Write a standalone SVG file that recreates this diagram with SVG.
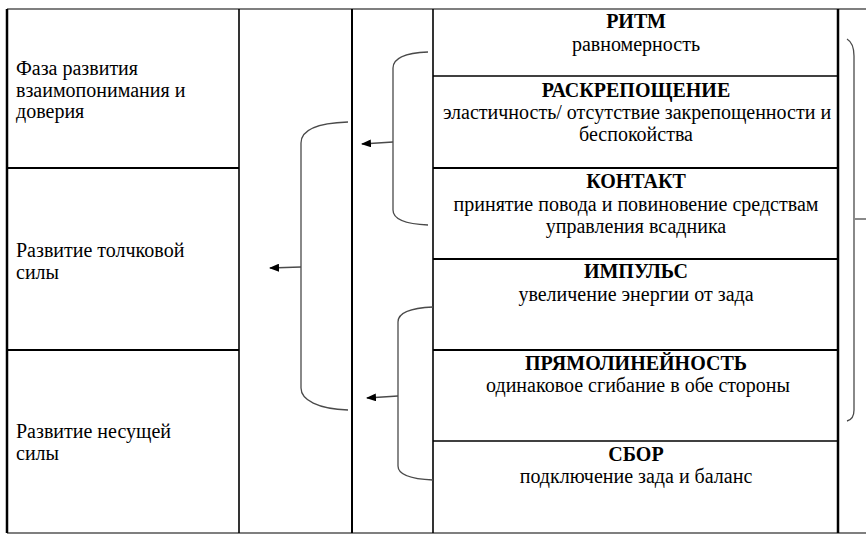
<svg xmlns="http://www.w3.org/2000/svg" width="866" height="538" viewBox="0 0 866 538">
<defs>
<style>
.t{font-family:"Liberation Serif","Times New Roman",serif;font-size:20px;fill:#000}
.b{font-weight:bold}
.c{text-anchor:middle}
.g{stroke:#000;fill:none}
.k{stroke:#4a4a4a;stroke-width:1.3;fill:none}
</style>
<marker id="ah" markerWidth="10" markerHeight="8" refX="9" refY="4" orient="auto" markerUnits="userSpaceOnUse">
<path d="M0,0 L10,4 L0,8 Z" fill="#000"/>
</marker>
</defs>
<rect width="866" height="538" fill="#fff"/>
<g id="grid">
<line class="g" x1="7" y1="9" x2="866" y2="9" stroke="#555" stroke-width="1.2"/>
<line class="g" x1="7" y1="533" x2="866" y2="533" stroke="#555" stroke-width="1.2"/>
<line class="g" x1="7" y1="9" x2="7" y2="533" stroke-width="2.5"/>
<line class="g" x1="239" y1="9" x2="239" y2="533" stroke-width="1.6"/>
<line class="g" x1="352" y1="9" x2="352" y2="533" stroke-width="2"/>
<line class="g" x1="433" y1="9" x2="433" y2="533" stroke-width="1.6"/>
<line class="g" x1="838" y1="9" x2="838" y2="533" stroke-width="2.5"/>
<line class="g" x1="7" y1="168" x2="239" y2="168" stroke-width="2"/>
<line class="g" x1="7" y1="350" x2="239" y2="350" stroke-width="2"/>
<line class="g" x1="433" y1="76" x2="838" y2="76" stroke-width="1.5"/>
<line class="g" x1="433" y1="168" x2="838" y2="168" stroke-width="2"/>
<line class="g" x1="433" y1="259" x2="838" y2="259" stroke-width="2"/>
<line class="g" x1="433" y1="350" x2="838" y2="350" stroke-width="2"/>
<line class="g" x1="433" y1="441" x2="838" y2="441" stroke-width="1.5"/>
</g>
<g id="phase1">
<text class="t" x="16" y="75">Фаза развития</text>
<text class="t" x="16" y="97">взаимопонимания и</text>
<text class="t" x="16" y="118">доверия</text>
</g>
<g id="phase2">
<text class="t" x="16" y="257">Развитие толчковой</text>
<text class="t" x="16" y="279">силы</text>
</g>
<g id="phase3">
<text class="t" x="16" y="438">Развитие несущей</text>
<text class="t" x="16" y="460">силы</text>
</g>
<g id="ritm">
<text class="t b c" x="636" y="28">РИТМ</text>
<text class="t c" x="636" y="51">равномерность</text>
</g>
<g id="raskreposhenie">
<text class="t b c" x="636" y="97">РАСКРЕПОЩЕНИЕ</text>
<text class="t c" x="637" y="119">эластичность/ отсутствие закрепощенности и</text>
<text class="t c" x="636" y="141">беспокойства</text>
</g>
<g id="kontakt">
<text class="t b c" x="636" y="188">КОНТАКТ</text>
<text class="t c" x="636" y="211">принятие повода и повиновение средствам</text>
<text class="t c" x="636" y="233">управления всадника</text>
</g>
<g id="impuls">
<text class="t b c" x="636" y="278">ИМПУЛЬС</text>
<text class="t c" x="636" y="301">увеличение энергии от зада</text>
</g>
<g id="pryamolineynost">
<text class="t b c" x="636" y="370">ПРЯМОЛИНЕЙНОСТЬ</text>
<text class="t c" x="638" y="392">одинаковое сгибание в обе стороны</text>
</g>
<g id="sbor">
<text class="t b c" x="636" y="461">СБОР</text>
<text class="t c" x="636" y="483">подключение зада и баланс</text>
</g>
<g id="connectors">
<path class="k" d="M428,52 C405,53 393,58 393,68 L393,210 C393,219 405,224 428,225"/>
<line class="k" x1="393" y1="142" x2="362" y2="144" marker-end="url(#ah)"/>
<path class="k" d="M348,122 C318,123 301,130 301,143 L301,388 C301,400 318,409 348,410"/>
<line class="k" x1="301" y1="267" x2="270" y2="268" marker-end="url(#ah)"/>
<path class="k" d="M433,307 C410,308 398,313 398,322 L398,466 C398,474 410,479 433,480"/>
<line class="k" x1="398" y1="396" x2="367" y2="398" marker-end="url(#ah)"/>
<path class="k" d="M847,39 C852,42 854,48 854,56 L854,410 C854,416 851,420 847,421"/>
<line class="k" x1="855" y1="219" x2="866" y2="219"/>
</g>
</svg>
